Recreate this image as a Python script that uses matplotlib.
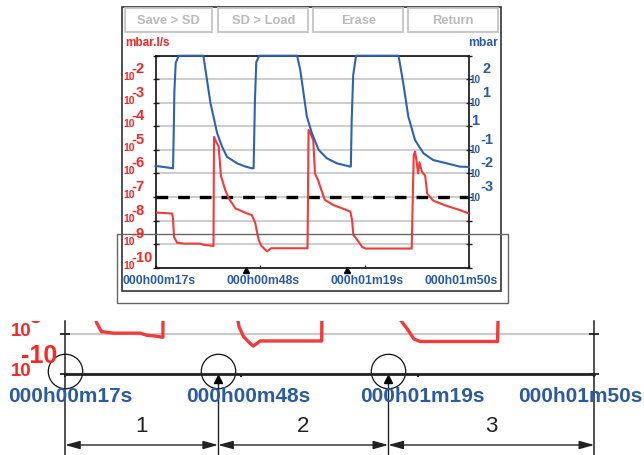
import matplotlib
matplotlib.use("Agg")
import matplotlib.pyplot as plt
import matplotlib.transforms as mtransforms
from matplotlib.patches import Rectangle
from matplotlib.ticker import FixedLocator, NullLocator, NullFormatter

plt.rcParams['font.family'] = ['Liberation Sans', 'DejaVu Sans']

# ---------------- data ----------------
pressure_time = [17.0, 22.2, 22.4, 22.6, 23.0, 23.9, 31.2, 33.3, 35.3, 36.75, 38.2, 41.2, 43.5, 45.6,
                 46.1, 46.5, 46.9, 47.8, 59.0, 59.95, 61.9, 63.4, 65.4, 67.85, 70.8, 74.8,
                 74.95, 75.2, 75.65, 76.5, 89.1, 90.5, 92.0, 94.0, 96.5, 99.4, 103.4, 107.3, 110.0]
pressure_mbar = [0.021, 0.0166, 0.5, 30, 500, 1000, 1000, 9.8, 0.51, 0.138, 0.051, 0.027, 0.02, 0.0166,
                 0.0166, 13, 540, 1000, 1000, 247, 2.6, 0.51, 0.1, 0.044, 0.027, 0.0195,
                 0.02, 1.9, 150, 1000, 1000, 67, 2.6, 0.26, 0.072, 0.037, 0.027, 0.0195, 0.019]

leak_time = [17.0, 21.95, 22.2, 22.5, 23.4, 25.5, 27.8, 30.2, 31.4, 32.8, 34.2,
             34.35, 35.0, 35.75, 36.4, 37.7, 38.7, 40.7, 44.2, 45.6, 46.6, 47.6, 48.4, 49.5, 50.1, 51.3,
             61.9, 62.1, 62.4, 63.0, 63.8, 64.3, 65.2, 66.2, 67.2, 69.7, 72.4, 74.8, 75.3, 75.7,
             77.2, 78.3, 79.4, 92.8, 93.0, 93.6, 94.0, 94.4, 94.9, 95.3, 96.0, 97.0, 97.6, 99.4,
             103.4, 107.3, 110.0]
leak_rate = [2.2e-8, 2.0e-8, 1.2e-8, 2.0e-9, 1.15e-9, 1.05e-9, 1.05e-9, 1.05e-9, 9.3e-10, 8.9e-10, 8.3e-10,
             3.6e-5, 2.2e-5, 1.4e-5, 8e-7, 2.0e-7, 8.9e-8, 3.3e-8, 2.0e-8, 1.7e-8, 7.7e-9, 1.5e-9, 8.5e-10,
             5.9e-10, 5.0e-10, 6.7e-10,
             6.7e-10, 6.7e-10, 7.0e-5, 5.0e-5, 2.6e-5, 1.0e-6, 5.3e-7, 2.0e-7, 7.6e-8, 4.6e-8, 3.3e-8,
             2.4e-8, 1.07e-8, 2.5e-9,
             1.3e-9, 7.5e-10, 6.5e-10, 6.5e-10, 6.5e-10, 6e-6, 8.5e-6, 3.7e-6, 1.0e-6, 3.0e-6, 1.2e-6,
             8e-7, 1.4e-7, 7e-8,
             4.2e-8, 2.8e-8, 2.0e-8]

threshold_leak = 1e-7
time_ticks = [17, 48, 79, 110]
time_labels = ['000h00m17s', '000h00m48s', '000h01m19s', '000h01m50s']
cursor_times = [43.9, 73.8]
left_exponents = [-2, -3, -4, -5, -6, -7, -8, -9, -10]
right_exponents = [2, 1, 0, -1, -2, -3]
zoom_exponents = [-9, -10]
button_labels = ['Save > SD', 'SD > Load', 'Erase', 'Return']
segment_labels = ['1', '2', '3']

# ---------------- styling ----------------
RED = '#f43a3a'
RED_TXT = '#ff2424'
BLUE = '#2d62b6'
BLUE_TXT = '#2a5aa8'
GRID = '#c9c9c9'

W, H = 644, 455
fig = plt.figure(figsize=(W / 100, H / 100), dpi=100)
PX = mtransforms.Affine2D().scale(1 / W, -1 / H).translate(0, 1) + fig.transFigure


def add_axes_px(x0, y0, x1, y1):
    return fig.add_axes([x0 / W, 1 - y1 / H, (x1 - x0) / W, (y1 - y0) / H])


def shift(dx, dy):
    # pixels; dy positive = downwards
    return mtransforms.Affine2D().translate(dx, -dy)


# ---------------- screenshot frame ----------------
fig.add_artist(Rectangle((122.3, 6.7), 378.4, 284, transform=PX, fill=False,
                         edgecolor='#333333', lw=1.2))
button_x = [(125, 211.7), (218.3, 308.3), (313.3, 403.3), (407.7, 498.3)]
for (x0, x1), lab in zip(button_x, button_labels):
    fig.add_artist(Rectangle((x0, 8.3), x1 - x0, 24, transform=PX, fill=False,
                             edgecolor='#c4c4c4', lw=1.3))
    fig.text((x0 + x1) / 2, 20.5, lab, transform=PX, ha='center', va='center',
             fontsize=9.3, fontweight='bold', color='#b9b9b9')

fig.text(125, 43.5, 'mbar.l/s', transform=PX, ha='left', va='center', fontsize=8.5,
         fontweight='bold', color=RED_TXT)
fig.text(498.5, 43.5, 'mbar', transform=PX, ha='right', va='center', fontsize=8.7,
         fontweight='bold', color=BLUE_TXT)

# ---------------- main chart ----------------
ax = add_axes_px(155.5, 55.7, 469, 267.7)
ax.set_xlim(time_ticks[0], time_ticks[-1])
ax.set_yscale('log')
ax.set_ylim(1e-10, 1e-1)
ax.yaxis.set_major_locator(FixedLocator([10.0 ** e for e in range(-10, 0)]))
ax.yaxis.set_minor_locator(NullLocator())
ax.yaxis.set_major_formatter(NullFormatter())
ax.grid(axis='y', color=GRID, lw=1.3)
ax.set_axisbelow(True)
ax.tick_params(axis='y', direction='inout', length=4, width=1, color='#222222')
ax.set_xticks(time_ticks)
ax.xaxis.set_major_formatter(NullFormatter())
ax.tick_params(axis='x', direction='in', length=2, width=1, color='#222222')
for sp in ax.spines.values():
    sp.set_color('#111111')
    sp.set_linewidth(1.2)

ax.axhline(threshold_leak, color='black', lw=2.4, dashes=(3.5, 3.0), zorder=2)
ax.plot(leak_time, leak_rate, color=RED, lw=1.5, zorder=3)

axr = ax.twinx()
axr.set_yscale('log')
axr.set_ylim(1e-6, 1e3)
axr.yaxis.set_major_locator(FixedLocator([10.0 ** e for e in range(-6, 4)]))
axr.yaxis.set_minor_locator(NullLocator())
axr.yaxis.set_major_formatter(NullFormatter())
axr.tick_params(axis='y', direction='inout', length=4, width=1, color='#222222')
for sp in axr.spines.values():
    sp.set_visible(False)
axr.plot(pressure_time, pressure_mbar, color=BLUE, lw=1.5, clip_on=False, zorder=3)

# left (red) decade labels
TL = mtransforms.blended_transform_factory(PX, ax.transData)
for e in left_exponents:
    v = 10.0 ** e
    fig.text(135, v, '10', transform=TL + shift(0, 1), ha='right', va='baseline',
             fontsize=7.5, fontweight='bold', color=RED_TXT)
    fig.text(131, v, '-%d' % abs(e), transform=TL + shift(0, -6), ha='left', va='baseline',
             fontsize=10.5, fontweight='bold', color=RED_TXT)

# right (blue) decade labels
TR = mtransforms.blended_transform_factory(PX, axr.transData)
for e in right_exponents:
    v = 10.0 ** e
    if e == 0:
        fig.text(471.5, v, '1', transform=TR + shift(0, -1), ha='left', va='baseline',
                 fontsize=10.5, fontweight='bold', color=BLUE_TXT)
        continue
    fig.text(469.8, v, '10', transform=TR + shift(0, 3.5), ha='left', va='baseline',
             fontsize=7.2, fontweight='bold', color=BLUE_TXT)
    exp_txt = '%d' % e if e > 0 else '-%d' % abs(e)
    fig.text(482.5 if e > 0 else 480, v, exp_txt, transform=TR + shift(0, -6), ha='left',
             va='baseline', fontsize=10.5, fontweight='bold', color=BLUE_TXT)

# time labels
TX = mtransforms.blended_transform_factory(ax.transData, PX)
label_shift = [4, 3.5, 2.5, -8]
for t, lab, dx in zip(time_ticks, time_labels, label_shift):
    fig.text(t, 275, lab, transform=TX + shift(dx, 0), ha='center', va='top',
             fontsize=8.8, fontweight='bold', color=BLUE_TXT)
ax.plot(cursor_times, [270.2] * len(cursor_times), transform=TX, ls='none', marker='^',
        ms=4.8, color='black', clip_on=False)

# callout rectangle
fig.add_artist(Rectangle((116.7, 234.3), 391.6, 68.4, transform=PX, fill=False,
                         edgecolor='#666666', lw=1.0))

# ---------------- magnified detail ----------------
ZTOP = 320.7
ax2 = add_axes_px(65, ZTOP, 594.3, 374)
ax2.set_xlim(time_ticks[0], time_ticks[-1])
ax2.set_yscale('log')
ax2.set_ylim(1e-10, 10 ** -8.667)
ax2.yaxis.set_major_locator(FixedLocator([1e-10, 1e-9]))
ax2.yaxis.set_minor_locator(NullLocator())
ax2.yaxis.set_major_formatter(NullFormatter())
ax2.grid(axis='y', color=GRID, lw=1.6)
ax2.set_axisbelow(True)
ax2.tick_params(axis='y', left=True, right=True, direction='inout', length=7, width=1.3,
                color='#222222')
ax2.set_xticks(time_ticks)
ax2.xaxis.set_major_formatter(NullFormatter())
ax2.tick_params(axis='x', direction='out', length=2.5, width=1.5, color='#222222')
for side in ('top', 'left', 'right'):
    ax2.spines[side].set_visible(False)
ax2.spines['bottom'].set_linewidth(2.0)
ax2.spines['bottom'].set_color('#222222')
ax2.patch.set_alpha(0)
ax2.plot(leak_time, leak_rate, color=RED, lw=2.4, zorder=3)

T2 = mtransforms.blended_transform_factory(ax2.transData, PX)
segment_bounds = [time_ticks[0]] + cursor_times + [time_ticks[-1]]
for t in (time_ticks[0], time_ticks[-1]):
    ax2.plot([t, t], [ZTOP, 455], transform=T2, color='#222222', lw=1.1, clip_on=False)
for t in cursor_times:
    ax2.plot([t, t], [379, 455], transform=T2, color='#222222', lw=1.0, clip_on=False)
ax2.plot([time_ticks[0]] + cursor_times, [371] * 3, transform=T2, ls='none', marker='o',
         ms=24.8, mfc='none', mec='#111111', mew=0.9, clip_on=False)
ax2.plot(cursor_times, [379] * len(cursor_times), transform=T2, ls='none', marker='^',
         ms=5.8, color='black', clip_on=False)

for a, b, lab in zip(segment_bounds[:-1], segment_bounds[1:], segment_labels):
    ax2.annotate('', xy=(b, 445), xytext=(a, 445), xycoords=T2, textcoords=T2,
                 arrowprops=dict(arrowstyle='<|-|>,head_length=0.9,head_width=0.25',
                                 color='#222222', lw=1.0, shrinkA=0, shrinkB=0),
                 annotation_clip=False)
    fig.text((a + b) / 2, 427, lab, transform=T2, ha='center', va='center', fontsize=16,
             color='#222222')

zoom_shift = [5, 6.5, 4.7, -14]
for t, lab, dx in zip(time_ticks, time_labels, zoom_shift):
    fig.text(t, 387.3, lab, transform=T2 + shift(dx, 0), ha='center', va='top',
             fontsize=15, fontweight='bold', color=BLUE_TXT)

clip = mtransforms.TransformedBbox(mtransforms.Bbox([[0, ZTOP], [W, H]]), PX)
TZ = mtransforms.blended_transform_factory(PX, ax2.transData)
for e in zoom_exponents:
    v = 10.0 ** e
    t1 = fig.text(31.7, v, '10', transform=TZ + shift(0, 2), ha='right', va='baseline',
                  fontsize=13.4, fontweight='bold', color=RED_TXT)
    t2 = fig.text(20.7, v, '-%d' % abs(e), transform=TZ + shift(0, -10.7), ha='left',
                  va='baseline', fontsize=18, fontweight='bold', color=RED_TXT)
    for tt in (t1, t2):
        tt.set_clip_box(clip)
        tt.set_clip_on(True)

fig.savefig('out.png', dpi=100)
